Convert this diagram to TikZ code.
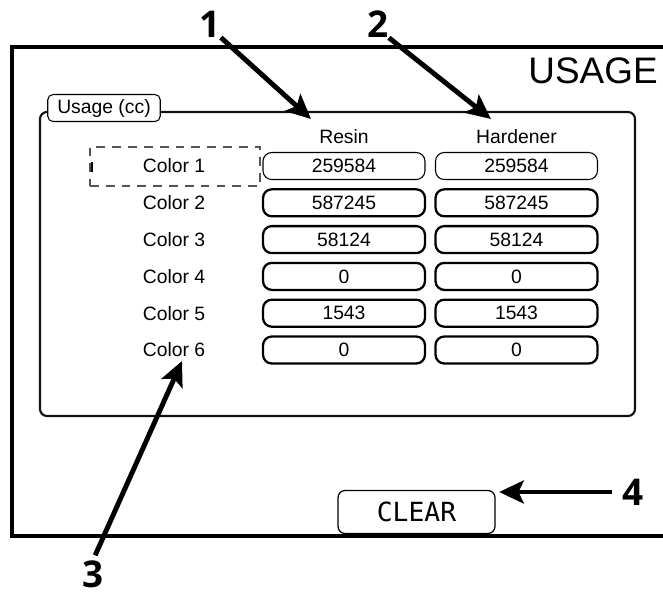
\documentclass[tikz,border=0pt]{standalone}
\usepackage{fontspec}
\setmainfont{Liberation Sans}
\newfontfamily\calloutfont{Open Sans}
\newfontfamily\lcdfont{DejaVu Sans Mono}
\usetikzlibrary{positioning, arrows.meta, calc}
\definecolor{panelline}{HTML}{111111}
\definecolor{dashgray}{HTML}{555555}
\tikzset{
  screen frame/.style={
    line width=1.8pt,
    draw=black
  },
  group frame/.style={
    line width=1.2pt,
    draw=panelline,
    rounded corners=4pt
  },
  callout/.style={
    -{Stealth[length=14pt, width=13pt, inset=3pt]},
    line width=2.8pt
  },
  callout num/.style={
    font=\calloutfont\bfseries\fontsize{21}{21}\selectfont,
    inner sep=0pt
  },
  ui text/.style={
    font=\fontsize{11}{11}\selectfont,
    inner sep=0pt
  },
  value box/.style={
    draw, rounded corners=5pt,
    minimum width=3.24cm, minimum height=0.54cm,
    inner sep=0pt, font=\fontsize{11}{11}\selectfont
  }
}

\begin{document}
\begin{tikzpicture}[x=0.02cm, y=-0.02cm,
  selbox/.style={draw=dashgray, dash pattern=on 5pt off 4pt, line width=0.7pt,
    minimum width=3.4cm, minimum height=0.78cm},
  clearbtn/.style={draw, rounded corners=4pt, line width=0.7pt,
    minimum width=3.14cm, minimum height=0.86cm,
    font=\lcdfont\fontsize{15}{15}\selectfont}]
  \useasboundingbox (0,0) rectangle (663,593);

  % screen outline (runs off the right edge)
  \draw[screen frame] (663,47) -- (12,47) -- (12,536) -- (663,536);
  \node[font=\fontsize{21}{21}\selectfont, anchor=east, inner sep=0pt] (title) at (658,71) {USAGE};

  % Usage group box
  \draw[group frame] (40,112) rectangle (635,416);
  \node[ui text, draw, fill=white, rounded corners=3pt, line width=0.6pt,
    minimum width=2.25cm, minimum height=0.54cm] (grplabel) at (104,108) {Usage (cc)};

  % column heads
  \node[ui text] (hdrresin) at (344,137) {Resin};
  \node[ui text] (hdrhard) at (516.5,137) {Hardener};

  % colour rows
  \foreach \i/\val/\bw in {1/259584/0.6pt, 2/587245/1.3pt, 3/58124/1.3pt,
                           4/0/1.3pt, 5/1543/1.3pt, 6/0/1.3pt}{
    \node[ui text] (col\i) at (174, {166+36.8*(\i-1)}) {Color \i};
    \node[value box, line width=\bw] (res\i) at (344, {166+36.8*(\i-1)}) {\val};
    \node[value box, line width=\bw] (hrd\i) at (516.5, {166+36.8*(\i-1)}) {\val};
  }

  % selection on row 1
  \node[selbox] (sel) at (175,166.5) {};
  \draw[line width=0.8pt] (92,162) -- (92,172); % cursor tick

  % CLEAR button
  \node[clearbtn] (clear) at (416.5,512) {CLEAR};

  % callouts
  \node[callout num] (num1) at (210,24) {1};
  \node[callout num] (num2) at (378,24) {2};
  \node[callout num] (num3) at (93,574) {3};
  \node[callout num] (num4) at (633,492) {4};
  \coordinate (tip1) at (311,119);
  \coordinate (tip2) at (491,119);
  \coordinate (tip3) at (182,361);
  \draw[callout] (num1.south east) -- (tip1);
  \draw[callout] (num2.south east) -- (tip2);
  \draw[callout, shorten <=3pt] (num3.north) -- (tip3);
  \draw[callout, shorten <=6pt, shorten >=2pt] (num4.west) -- (num4.west -| clear.east);

\end{tikzpicture}
\end{document}
